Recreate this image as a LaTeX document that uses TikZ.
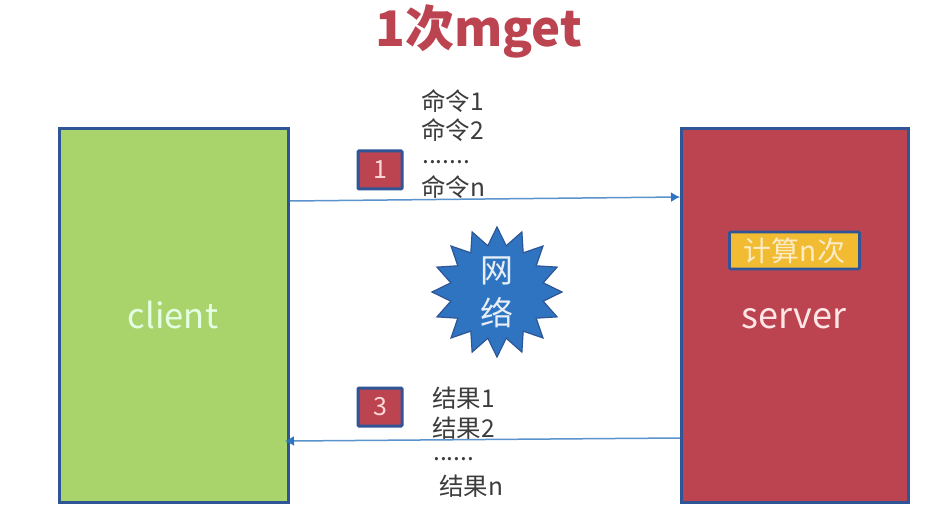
\documentclass[tikz,border=0pt]{standalone}
\usepackage{fontspec}
\setmainfont{Noto Sans CJK SC}
\usetikzlibrary{shapes.geometric,arrows.meta}
\definecolor{frameblue}{HTML}{2F5597}
\definecolor{boxred}{HTML}{BC4450}
\definecolor{boxgreen}{HTML}{A9D46C}
\definecolor{boxyellow}{HTML}{F2BC32}
\definecolor{starblue}{HTML}{2F74C0}
\definecolor{linkblue}{HTML}{5B93CC}
\definecolor{inktext}{HTML}{3C3C3C}
\tikzset{
  panel/.style={draw=frameblue,line width=3pt,anchor=north west,inner sep=0pt},
  badge/.style={draw=frameblue,line width=3pt,rounded corners=1pt,fill=boxred,text=white!85!red,minimum width=44pt,minimum height=38pt,inner sep=0pt,font=\fontsize{25}{25}\selectfont},
  note/.style={text=inktext,anchor=west,inner sep=0pt,font=\fontsize{24.5}{24.5}\selectfont},
  link/.style={draw=linkblue,line width=1.5pt,-{Latex[length=9pt,width=10pt,color=starblue]}},
  paneltext/.style={anchor=base,inner sep=0pt}
}
\begin{document}
\begin{tikzpicture}[x=1pt,y=-1pt]
\useasboundingbox (0,0) rectangle (936,521);
\fill[white] (0,0) rectangle (936,521);
\node[text=boxred,inner sep=0pt,font=\fontsize{49}{49}\selectfont\bfseries] (title) at (479,31) {1次mget};
\node[panel,fill=boxgreen,minimum width=229pt,minimum height=373pt] (client) at (58,127.5) {};
\node[panel,fill=boxred,minimum width=227pt,minimum height=373pt] (server) at (680,127.5) {};
\node[paneltext,text=white!90!green,font=\fontsize{34.5}{34.5}\selectfont] (clienttext) at (173,328) {client};
\node[paneltext,text=white!90!red,font=\fontsize{36}{36}\selectfont] (servertext) at (794,328) {server};
\node[draw=frameblue,line width=2.8pt,rounded corners=1pt,fill=boxyellow,text=white!72!boxyellow,minimum width=130pt,minimum height=37pt,inner sep=0pt,font=\fontsize{28}{28}\selectfont] (calc) at (794.5,250.5) {计算n次};
\node[badge] (b1) at (380,170) {1};
\node[badge] (b3) at (380,407) {3};
\node[star,star points=16,star point ratio=1.38,draw=frameblue,line width=1.2pt,fill=starblue,minimum size=130pt,inner sep=0pt] (net) at (497,292) {};
\node[text=white!88!starblue,align=center,inner sep=0pt,font=\fontsize{33}{43}\selectfont] (nettext) at (497,292) {网\\络};
\node[note] (c1) at (421,101) {命令1};
\node[note] (c2) at (421,130) {命令2};
\node[note] (c3) at (422,162) {.......};
\node[note] (c4) at (421,187) {命令n};
\node[note] (r1) at (432,398) {结果1};
\node[note] (r2) at (432,428) {结果2};
\node[note] (r3) at (433,459) {......};
\node[note] (r4) at (439,486) {结果n};
\coordinate (a1) at (client.east |- 0,201);
\coordinate (a2) at (server.west |- 0,197);
\coordinate (a3) at (server.west |- 0,438);
\coordinate (a4) at (client.east |- 0,441);
\draw[link] (a1) -- (a2);
\draw[link,shorten >=-5pt] (a3) -- (a4);
\end{tikzpicture}
\end{document}
